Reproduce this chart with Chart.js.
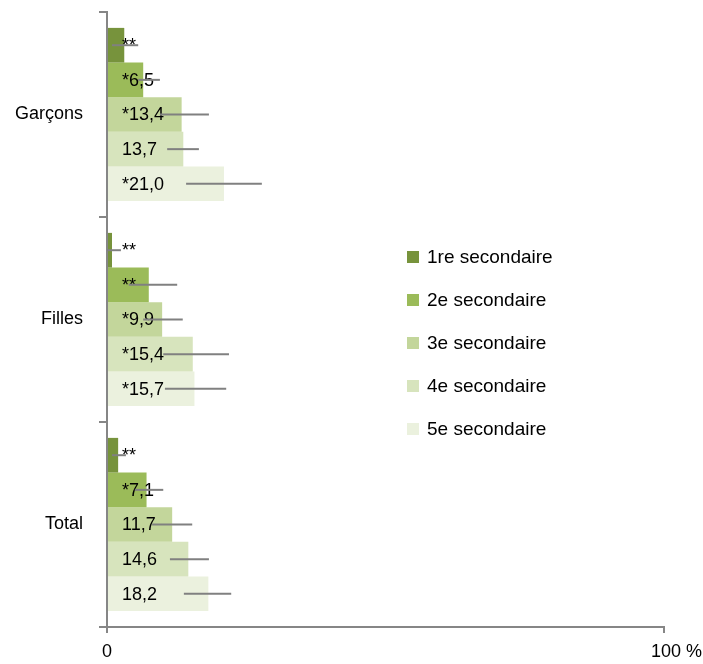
<!DOCTYPE html>
<html>
<head>
<meta charset="utf-8">
<script src="https://cdn.jsdelivr.net/npm/chart.js@4"></script>
<style>
  html, body { margin: 0; padding: 0; background: #fff; }
  #wrap { position: relative; width: 703px; height: 664px; }
  #legend { position: absolute; left: 407px; top: 235px; font: 19px "Liberation Sans", Arial, sans-serif; color: #000; }
  .item { height: 43px; display: flex; align-items: center; }
  .box { width: 12px; height: 12px; margin-right: 8px; }
</style>
</head>
<body>
<div id="wrap">
  <canvas id="myChart" width="703" height="664"></canvas>
  <div id="legend"></div>
</div>
<script>
var categories = ['Garçons', 'Filles', 'Total'];
var seriesNames = ['1re secondaire', '2e secondaire', '3e secondaire', '4e secondaire', '5e secondaire'];
var seriesColors = ['#77933C', '#9BBB59', '#C3D69B', '#D7E4BD', '#EBF1DE'];

// values (%) per category
var sec1 = [3.1, 0.9, 2.0];
var sec2 = [6.5, 7.5, 7.1];
var sec3 = [13.4, 9.9, 11.7];
var sec4 = [13.7, 15.4, 14.6];
var sec5 = [21.0, 15.7, 18.2];

// labels written in the bars
var labels1 = ['**', '**', '**'];
var labels2 = ['*6,5', '**', '*7,1'];
var labels3 = ['*13,4', '*9,9', '11,7'];
var labels4 = ['13,7', '*15,4', '14,6'];
var labels5 = ['*21,0', '*15,7', '18,2'];

// confidence intervals
var errLow1 = [0.9, 0.0, 0.9];   var errHigh1 = [5.6, 2.5, 3.4];
var errLow2 = [5.6, 3.9, 5.0];   var errHigh2 = [9.5, 12.6, 10.1];
var errLow3 = [9.5, 6.5, 8.1];   var errHigh3 = [18.3, 13.6, 15.3];
var errLow4 = [10.8, 10.1, 11.3]; var errHigh4 = [16.5, 21.9, 18.3];
var errLow5 = [14.2, 10.4, 13.8]; var errHigh5 = [27.8, 21.4, 22.3];

var xMin = 0;
var xMax = 100;

var values = [sec1, sec2, sec3, sec4, sec5];
var barLabels = [labels1, labels2, labels3, labels4, labels5];
var lows = [errLow1, errLow2, errLow3, errLow4, errLow5];
var highs = [errHigh1, errHigh2, errHigh3, errHigh4, errHigh5];

var datasets = seriesNames.map(function(name, i) {
  return {
    label: name,
    data: values[i],
    backgroundColor: seriesColors[i],
    borderWidth: 0,
    categoryPercentage: 0.845,
    barPercentage: 1.0,
    valueLabels: barLabels[i],
    errLow: lows[i],
    errHigh: highs[i]
  };
});

// text in bars, then the error lines over it
var barExtras = {
  id: 'barExtras',
  afterDatasetsDraw: function(chart) {
    var ctx = chart.ctx;
    var xs = chart.scales.x;
    ctx.save();
    ctx.font = '18px "Liberation Sans", Arial, sans-serif';
    ctx.fillStyle = '#000';
    ctx.textAlign = 'left';
    ctx.textBaseline = 'middle';
    chart.data.datasets.forEach(function(ds, i) {
      chart.getDatasetMeta(i).data.forEach(function(bar, j) {
        ctx.fillText(ds.valueLabels[j], xs.getPixelForValue(0) + 15, bar.y + 1);
      });
    });
    ctx.strokeStyle = '#808080';
    ctx.lineWidth = 2;
    chart.data.datasets.forEach(function(ds, i) {
      chart.getDatasetMeta(i).data.forEach(function(bar, j) {
        ctx.beginPath();
        ctx.moveTo(xs.getPixelForValue(ds.errLow[j]), bar.y);
        ctx.lineTo(xs.getPixelForValue(ds.errHigh[j]), bar.y);
        ctx.stroke();
      });
    });
    ctx.restore();
  }
};

var ctx = document.getElementById('myChart').getContext('2d');
var myChart = new Chart(ctx, {
  type: 'bar',
  data: { labels: categories, datasets: datasets },
  options: {
    indexAxis: 'y',
    responsive: false,
    animation: false,
    layout: { padding: { top: 12, right: 39, bottom: 0, left: 0 } },
    plugins: {
      legend: { display: false },
      tooltip: { enabled: false }
    },
    scales: {
      y: {
        type: 'category',
        afterFit: function(scale) {
          scale.width = 107;
          scale.paddingTop = 0;
          scale.paddingBottom = 0;
        },
        grid: { offset: true, drawOnChartArea: false, tickLength: 8, color: '#868686', lineWidth: 2 },
        border: { color: '#868686', width: 2 },
        ticks: { color: '#000', padding: 16, font: { family: '"Liberation Sans", Arial, sans-serif', size: 18 } }
      },
      x: {
        min: xMin,
        max: xMax,
        afterFit: function(scale) {
          scale.height = 37;
          scale.paddingLeft = 0;
          scale.paddingRight = 0;
        },
        grid: { drawOnChartArea: false, tickLength: 6, color: '#868686', lineWidth: 2 },
        border: { color: '#868686', width: 2 },
        ticks: {
          stepSize: 100,
          color: '#000',
          padding: 8,
          maxRotation: 0,
          font: { family: '"Liberation Sans", Arial, sans-serif', size: 18 },
          callback: function(v) { return v === 100 ? '     100 %' : String(v); }
        }
      }
    }
  },
  plugins: [barExtras]
});

// legend built from the chart's datasets
var legend = document.getElementById('legend');
myChart.data.datasets.forEach(function(ds) {
  var item = document.createElement('div');
  item.className = 'item';
  item.innerHTML = '<span class="box" style="background:' + ds.backgroundColor + '"></span>' + ds.label;
  legend.appendChild(item);
});
</script>
</body>
</html>
